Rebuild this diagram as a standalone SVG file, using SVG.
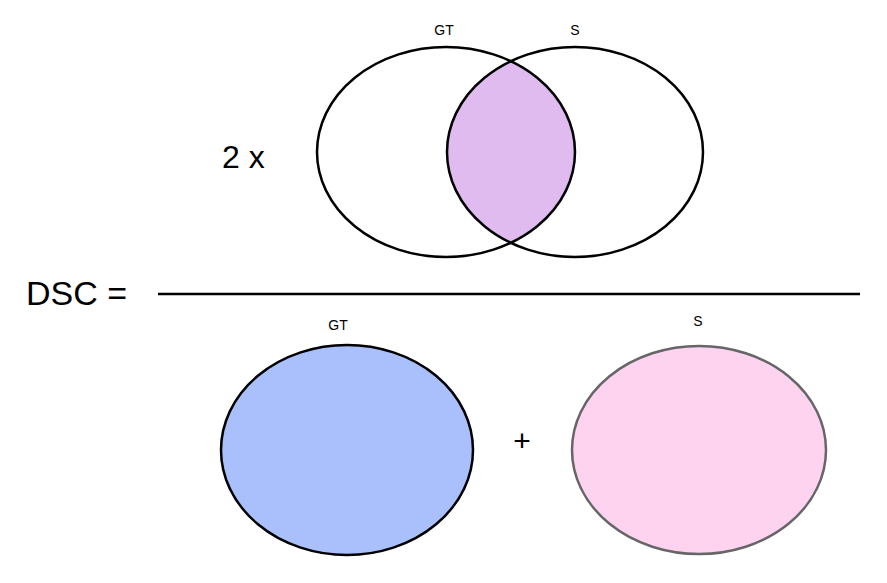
<svg xmlns="http://www.w3.org/2000/svg" width="887" height="583" viewBox="0 0 887 583">
<style>
.o{fill:none;stroke:#000;stroke-width:2.5}
.t{font-family:"Liberation Sans",Arial,sans-serif;fill:#000}
.s{font-size:14px;text-anchor:middle}
</style>
<rect width="887" height="583" fill="#fff"/>
<g id="intersection"><path d="M510.5,61 A128,105 0 0 0 510.5,243 A129,105 0 0 0 510.5,61 Z" fill="#dfbbf0"/></g>
<g id="gt-top"><ellipse class="o" cx="446" cy="152" rx="129" ry="105"/><text class="t s" x="444" y="35">GT</text></g>
<g id="s-top"><ellipse class="o" cx="575" cy="152" rx="128" ry="105"/><text class="t s" x="575" y="35">S</text></g>
<g id="gt-bottom"><ellipse cx="347" cy="450" rx="126" ry="105" fill="#a9c0fd" stroke="#000" stroke-width="2.5"/><text class="t s" x="338" y="330">GT</text></g>
<g id="s-bottom"><ellipse cx="699" cy="450" rx="127" ry="104" fill="#fed3f0" stroke="#666" stroke-width="2.5"/><text class="t s" x="698" y="326">S</text></g>
<g id="connectors"><line x1="158" y1="294" x2="860" y2="294" stroke="#000" stroke-width="2.5"/></g>
<text class="t" x="26" y="305" font-size="34">DSC =</text>
<text class="t" x="222" y="168" font-size="32">2  x</text>
<text class="t" x="522" y="451" font-size="30" text-anchor="middle">+</text>
</svg>
